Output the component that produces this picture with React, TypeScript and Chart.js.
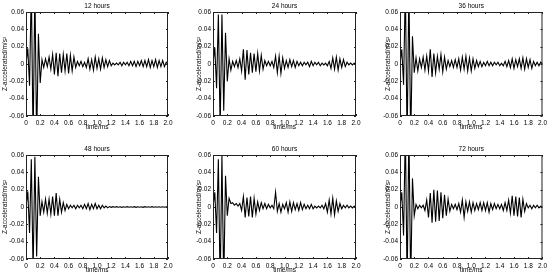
import React, { useEffect, useRef } from "react";
import { Chart, registerables } from "chart.js";

Chart.register(...registerables);

// sample spacing (ms) of the digitised extrema sequences below
const TIME_STEP = 0.025;

const xTickValues = [0, 0.2, 0.4, 0.6, 0.8, 1.0, 1.2, 1.4, 1.6, 1.8, 2.0];
const yTickValues = [-0.06, -0.04, -0.02, 0, 0.02, 0.04, 0.06];

const panelTitles = ["12 hours", "24 hours", "36 hours", "48 hours", "60 hours", "72 hours"];
const xAxisTitle = "time/ms";
const yAxisTitle = "Z-accelerated/m/s\u00B2";

const acc12h = [
  0, 0.018, -0.025, 0.09, -0.09, 0.09, -0.09, 0.035, -0.022, 0.005,
  -0.004, 0.006, -0.003, 0.008, -0.006, 0.011, -0.012, 0.013, -0.014, 0.012,
  -0.01, 0.011, -0.008, 0.012, -0.011, 0.01, -0.008, 0.008, -0.004, 0.003,
  -0.002, 0.003, -0.003, 0.002, -0.004, 0.006, -0.006, 0.005, -0.007, 0.008,
  -0.005, 0.006, -0.006, 0.007, -0.004, 0.005, -0.003, 0.004, -0.002, 0.001,
  -0.001, 0.001, -0.001, 0.002, -0.002, 0.002, -0.001, 0.002, -0.002, 0.003,
  -0.002, 0.003, -0.003, 0.003, -0.002, 0.004, -0.003, 0.004, -0.003, 0.005,
  -0.004, 0.004, -0.003, 0.005, -0.004, 0.004, -0.003, 0.004, -0.003, 0.002,
  0,
];

const acc24h = [
  0, 0.019, -0.028, 0.057, -0.075, 0.057, -0.054, 0.036, -0.02, 0.006,
  -0.007, 0.003, -0.003, 0.004, -0.004, 0.006, -0.008, 0.017, -0.018, 0.016,
  -0.012, 0.013, -0.01, 0.012, -0.009, 0.012, -0.008, 0.01, -0.006, 0.004,
  -0.002, 0.003, -0.002, 0.003, -0.004, 0.009, -0.01, 0.009, -0.011, 0.007,
  -0.005, 0.004, -0.004, 0.005, -0.003, 0.004, -0.004, 0.003, -0.002, 0.002,
  -0.002, 0.002, -0.001, 0.002, -0.003, 0.003, -0.002, 0.002, -0.001, 0.002,
  -0.002, 0.001, -0.001, 0.001, -0.002, 0.003, -0.005, 0.007, -0.006, 0.008,
  -0.007, 0.006, -0.004, 0.005, -0.003, 0.002, -0.001, 0.001, -0.001, 0.001,
  0,
];

const acc36h = [
  0, 0.017, -0.024, 0.09, -0.09, 0.09, -0.09, 0.032, -0.01, 0.007,
  -0.008, 0.006, -0.004, 0.008, -0.007, 0.009, -0.008, 0.017, -0.015, 0.012,
  -0.01, 0.009, -0.006, 0.011, -0.009, 0.008, -0.006, 0.004, -0.003, 0.004,
  -0.004, 0.005, -0.004, 0.006, -0.007, 0.008, -0.006, 0.009, -0.008, 0.007,
  -0.008, 0.006, -0.005, 0.004, -0.003, 0.003, -0.003, 0.002, -0.002, 0.003,
  -0.002, 0.002, -0.002, 0.002, -0.001, 0.002, -0.002, 0.001, -0.002, 0.003,
  -0.003, 0.004, -0.004, 0.006, -0.005, 0.005, -0.003, 0.006, -0.005, 0.007,
  -0.006, 0.006, -0.004, 0.005, -0.005, 0.003, -0.002, 0.002, -0.002, 0.002,
  0,
];

const acc48h = [
  0, 0.018, -0.03, 0.055, -0.075, 0.058, -0.057, 0.035, -0.01, 0.006,
  -0.006, 0.009, -0.007, 0.009, -0.008, 0.012, -0.01, 0.016, -0.01, 0.009,
  -0.006, 0.005, -0.004, 0.003, -0.002, 0.002, -0.001, 0.002, -0.002, 0.002,
  -0.001, 0.002, -0.002, 0.003, -0.002, 0.004, -0.003, 0.003, -0.002, 0.004,
  -0.002, 0.002, -0.002, 0.002, -0.001, 0.001, -0.001, 0.0005, -0.0004, 0.0004,
  -0.0003, 0.0004, -0.0003, 0.0003, -0.0004, 0.0003, -0.0003, 0.0004, -0.0003, 0.0003,
  -0.0003, 0.0004, -0.0004, 0.0003, -0.0003, 0.0003, -0.0004, 0.0004, -0.0003, 0.0003,
  -0.0003, 0.0004, -0.0003, 0.0003, -0.0003, 0.0003, -0.0002, 0.0003, -0.0002, 0.0002,
  0,
];

const acc60h = [
  0, 0.017, -0.03, 0.055, -0.09, 0.06, -0.09, 0.036, -0.01, 0.01,
  0.004, 0.005, 0.002, 0.004, 0.001, 0.004, -0.004, 0.012, -0.012, 0.011,
  -0.011, 0.012, -0.012, 0.01, -0.008, 0.006, -0.004, 0.005, -0.002, 0.004,
  -0.002, 0.003, -0.001, 0.002, -0.002, 0.017, -0.005, 0.004, -0.006, 0.003,
  -0.002, 0.005, -0.006, 0.006, -0.005, 0.005, -0.003, 0.004, -0.004, 0.005,
  -0.003, 0.003, -0.002, 0.002, -0.002, 0.003, -0.002, 0.001, -0.001, 0.001,
  -0.001, 0.002, -0.002, 0.004, -0.006, 0.008, -0.008, 0.01, -0.009, 0.007,
  -0.005, 0.004, -0.002, 0.002, -0.001, 0.002, -0.001, 0.001, -0.001, 0.001,
  0,
];

const acc72h = [
  0, 0.017, -0.033, 0.09, -0.09, 0.09, -0.09, 0.033, -0.01, 0.003,
  -0.002, 0.002, -0.001, 0.002, -0.004, 0.008, -0.012, 0.016, -0.018, 0.02,
  -0.017, 0.019, -0.016, 0.017, -0.013, 0.014, -0.01, 0.009, -0.005, 0.003,
  -0.002, 0.003, -0.003, 0.004, -0.006, 0.008, -0.012, 0.006, -0.005, 0.006,
  -0.006, 0.005, -0.004, 0.004, -0.003, 0.005, -0.004, 0.005, -0.004, 0.005,
  -0.006, 0.004, -0.003, 0.004, -0.002, 0.003, -0.002, 0.003, -0.004, 0.005,
  -0.004, 0.008, -0.007, 0.013, -0.01, 0.012, -0.011, 0.011, -0.012, 0.009,
  -0.005, 0.004, -0.001, 0.002, -0.002, 0.002, -0.001, 0.002, -0.001, 0.001,
  0,
];

const panelSeries = [acc12h, acc24h, acc36h, acc48h, acc60h, acc72h];

// layout: canvas boxes (left, top, width, height, right padding, y-title offset)
const colLayouts = [
  { left: 0, width: 176, padRight: 8, yTitleOffset: 21 },
  { left: 187, width: 177, padRight: 8, yTitleOffset: 14 },
  { left: 374, width: 176, padRight: 6, yTitleOffset: 12 },
];
const rowLayouts = [
  { top: 0, height: 136 },
  { top: 143, height: 136 },
];

const FONT_FAMILY = '"Liberation Sans", Arial, sans-serif';
const FONT_SIZE = 6.5;

const fmtX = (v: number) => (Math.abs(v) < 1e-9 ? "0" : v.toFixed(1));
const fmtY = (v: number) => (Math.abs(v) < 1e-9 ? "0" : v.toFixed(2));

const framePlugin = {
  id: "matlabFrame",
  afterDraw(chart: any, _args: any, opts: any) {
    const { ctx, chartArea: a, scales } = chart;
    const xs = scales.x;
    const ys = scales.y;
    ctx.save();
    ctx.strokeStyle = "#222";
    ctx.lineWidth = 1;
    ctx.strokeRect(a.left + 0.5, a.top + 0.5, a.right - a.left - 1, a.bottom - a.top - 1);
    ctx.beginPath();
    const tl = 2;
    xTickValues.forEach((v) => {
      const px = Math.round(xs.getPixelForValue(v)) + 0.5;
      ctx.moveTo(px, a.bottom);
      ctx.lineTo(px, a.bottom - tl);
      ctx.moveTo(px, a.top);
      ctx.lineTo(px, a.top + tl);
    });
    yTickValues.forEach((v) => {
      const py = Math.round(ys.getPixelForValue(v)) + 0.5;
      ctx.moveTo(a.left, py);
      ctx.lineTo(a.left + tl, py);
      ctx.moveTo(a.right, py);
      ctx.lineTo(a.right - tl, py);
    });
    ctx.stroke();

    ctx.fillStyle = "#000";
    ctx.font = `${FONT_SIZE}px ${FONT_FAMILY}`;
    ctx.textAlign = "center";
    ctx.textBaseline = "middle";
    const cx = (a.left + a.right) / 2;
    const cy = (a.top + a.bottom) / 2;
    ctx.fillText(opts.title, cx, a.top - 6);
    ctx.fillText(xAxisTitle, cx, a.bottom + 11.5);
    ctx.save();
    ctx.translate(a.left - opts.yTitleOffset, cy);
    ctx.rotate(-Math.PI / 2);
    ctx.fillText(yAxisTitle, 0, 0);
    ctx.restore();
    ctx.restore();
  },
};

function Panel({ index }: { index: number }) {
  const ref = useRef<HTMLCanvasElement | null>(null);
  const col = colLayouts[index % 3];
  const row = rowLayouts[Math.floor(index / 3)];

  useEffect(() => {
    if (!ref.current) return;
    const values = panelSeries[index];
    const font = { family: FONT_FAMILY, size: FONT_SIZE };
    const chart = new Chart(ref.current, {
      type: "line",
      data: {
        datasets: [
          {
            data: values.map((y, i) => ({ x: i * TIME_STEP, y })),
            borderColor: "#000",
            borderWidth: 1.1,
            pointRadius: 0,
            tension: 0,
            fill: false,
          },
        ],
      },
      options: {
        animation: false,
        responsive: false,
        maintainAspectRatio: false,
        events: [],
        layout: { padding: { top: 12, right: col.padRight, left: 0, bottom: 0 } },
        plugins: {
          legend: { display: false },
          tooltip: { enabled: false },
          title: { display: false },
          // @ts-ignore
          matlabFrame: { title: panelTitles[index], yTitleOffset: col.yTitleOffset },
        },
        scales: {
          x: {
            type: "linear",
            min: 0,
            max: 2,
            afterBuildTicks: (s: any) => {
              s.ticks = xTickValues.map((v) => ({ value: v }));
            },
            afterFit: (s: any) => {
              s.height = 20;
            },
            ticks: {
              autoSkip: false,
              maxRotation: 0,
              padding: 3,
              color: "#000",
              font,
              callback: (v: any) => fmtX(Number(v)),
            },
            grid: { display: false, drawTicks: false },
            border: { display: false },
          },
          y: {
            type: "linear",
            min: -0.06,
            max: 0.06,
            afterBuildTicks: (s: any) => {
              s.ticks = yTickValues.map((v) => ({ value: v }));
            },
            afterFit: (s: any) => {
              s.width = 26;
            },
            ticks: {
              autoSkip: false,
              padding: 2,
              color: "#000",
              font,
              callback: (v: any) => fmtY(Number(v)),
            },
            grid: { display: false, drawTicks: false },
            border: { display: false },
          },
        },
      } as any,
      plugins: [framePlugin as any],
    });
    return () => chart.destroy();
  }, [index]);

  return (
    <canvas
      ref={ref}
      width={col.width}
      height={row.height}
      style={{
        position: "absolute",
        left: col.left,
        top: row.top,
        width: col.width,
        height: row.height,
      }}
    />
  );
}

export default function App() {
  return (
    <div
      style={{
        position: "fixed",
        left: 0,
        top: 0,
        width: 550,
        height: 279,
        overflow: "hidden",
        background: "#fff",
      }}
    >
      {panelTitles.map((_, i) => (
        <Panel key={i} index={i} />
      ))}
    </div>
  );
}
